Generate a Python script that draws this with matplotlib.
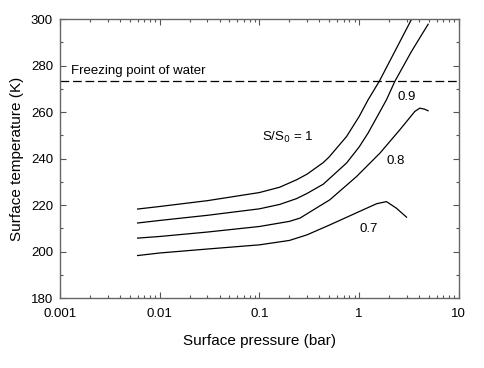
import numpy as np
import matplotlib.pyplot as plt
from matplotlib.ticker import MultipleLocator, FixedLocator, FixedFormatter

plt.rcParams['font.family'] = ['Liberation Sans', 'DejaVu Sans']

# pressions (bar) et températures (K)
p_10 = [0.006, 0.01, 0.03, 0.1, 0.16, 0.236, 0.3, 0.437, 0.5, 0.748, 1.0, 1.23, 1.59, 2.28, 3.36]
T_10 = [218.3, 219.4, 221.9, 225.4, 227.7, 230.9, 233.3, 238.3, 240.7, 249.5, 258.1, 265.3, 273.2, 286.1, 300.0]

p_09 = [0.006, 0.01, 0.03, 0.1, 0.16, 0.236, 0.3, 0.437, 0.748, 1.0, 1.23, 1.88, 2.28, 3.35, 4.92]
T_09 = [212.3, 213.4, 215.6, 218.4, 220.3, 222.8, 225.0, 229.0, 238.1, 245.0, 251.0, 265.3, 273.2, 286.1, 297.8]

p_08 = [0.006, 0.01, 0.03, 0.1, 0.2, 0.255, 0.509, 0.943, 1.62, 2.56, 3.62, 4.06, 4.5, 4.92]
T_08 = [205.8, 206.5, 208.4, 210.8, 213.0, 214.4, 222.3, 232.3, 242.4, 252.4, 260.3, 261.7, 261.3, 260.6]

p_07 = [0.006, 0.01, 0.03, 0.1, 0.2, 0.3, 0.509, 1.1, 1.5, 1.88, 2.36, 2.99]
T_07 = [198.3, 199.4, 201.1, 202.9, 204.8, 207.2, 211.5, 218.0, 220.6, 221.5, 218.7, 214.8]

T_freeze = 273.2

fig = plt.figure(figsize=(4.84, 3.68), dpi=100)
ax = fig.add_axes([0.124, 0.19, 0.824, 0.758])

for p, T in [(p_10, T_10), (p_09, T_09), (p_08, T_08), (p_07, T_07)]:
    ax.plot(p, T, color='black', lw=0.9)

ax.axhline(T_freeze, color='black', lw=0.9, dashes=(7, 3))

ax.set_xscale('log')
ax.set_xlim(0.001, 10)
ax.set_ylim(180, 300)

ax.xaxis.set_major_locator(FixedLocator([0.001, 0.01, 0.1, 1, 10]))
ax.xaxis.set_major_formatter(FixedFormatter(['0.001', '0.01', '0.1', '1', '10']))
ax.yaxis.set_major_locator(MultipleLocator(20))
ax.yaxis.set_minor_locator(MultipleLocator(10))

ax.tick_params(which='both', direction='in', top=True, right=True, color='#555555', labelsize=9.5)
ax.tick_params(which='major', length=4, width=0.8)
ax.tick_params(which='minor', length=2.5, width=0.8)
ax.tick_params(axis='x', pad=7)
ax.tick_params(axis='y', pad=5)
for s in ax.spines.values():
    s.set_color('#666666')
    s.set_linewidth(1.0)

ax.set_xlabel('Surface pressure (bar)', fontsize=11, labelpad=10)
ax.set_ylabel('Surface temperature (K)', fontsize=11, labelpad=5)

ax.text(0.0013, 275.2, 'Freezing point of water', fontsize=9.5, va='bottom')
ax.text(0.105, 249.2, r'S/S$_0$ = 1', fontsize=9.5, va='center')
ax.text(2.41, 266.3, '0.9', fontsize=9.5, va='center')
ax.text(1.88, 238.8, '0.8', fontsize=9.5, va='center')
ax.text(1.0, 209.7, '0.7', fontsize=9.5, va='center')

fig.savefig('out.png', dpi=100)
